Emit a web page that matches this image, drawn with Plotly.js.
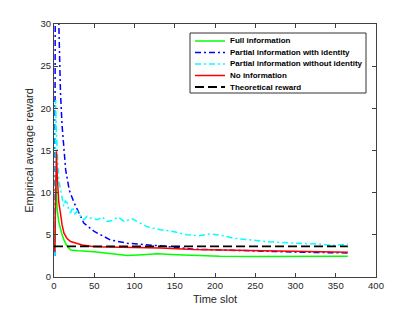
<!DOCTYPE html>
<html>
<head>
<meta charset="utf-8">
<script src="https://cdn.plot.ly/plotly-3.0.1.min.js"></script>
<style>html,body{margin:0;padding:0;background:#fff;}#chart{width:415px;height:312px;}</style>
</head>
<body>
<div id="chart"></div>
<script>
// Full information
var fullT = [1, 2, 3, 4, 6, 8, 10, 12.4, 16, 20.6, 30, 50, 70, 91, 110, 128, 153, 180, 206, 250, 300, 365];
var fullV = [3, 12, 10, 8, 6.5, 5.6, 5, 4.4, 3.7, 3.2, 3.1, 3.0, 2.75, 2.55, 2.65, 2.76, 2.64, 2.53, 2.45, 2.42, 2.4, 2.45];
// Partial information with identity
var pwiT = [1, 2, 4, 6, 8, 10, 12, 14.5, 19, 25, 33, 37, 50, 70, 91, 132, 173, 206, 250, 300, 365];
var pwiV = [2.5, 60, 38, 30, 22, 18, 15.5, 12.7, 10.3, 8.8, 7.2, 6.4, 5.4, 4.4, 4.0, 3.7, 3.3, 3.2, 3.05, 2.95, 2.85];
// Partial information without identity
var pwoT = [1, 2, 3, 4, 5, 6, 8, 10, 12, 14, 16.5, 18, 20.6, 23, 26, 29, 33, 37, 41, 45, 50, 54, 60, 66, 72, 80, 87, 97, 105, 115, 132, 148, 165, 180, 194, 210, 223, 264, 301, 330, 346, 365];
var pwoV = [2.5, 21, 17, 14, 13, 11.5, 10.4, 9.2, 8.4, 9.0, 8.8, 8.0, 7.6, 8.3, 7.5, 7.8, 7.2, 6.8, 7.2, 7.0, 6.9, 6.8, 7.1, 6.6, 6.7, 7.1, 6.6, 6.9, 6.5, 6.0, 5.6, 5.4, 5.0, 4.9, 5.1, 4.9, 4.6, 4.2, 4.0, 3.9, 3.75, 3.9];
// No information
var noT = [1, 2, 3, 4, 5, 6, 8, 10, 12.4, 16, 20.6, 25, 29, 35, 50, 90, 132, 173, 206, 250, 300, 365];
var noV = [3, 10, 14.9, 12, 10, 8.8, 7.6, 6.2, 5.2, 4.6, 4.2, 4.1, 4.0, 3.8, 3.6, 3.55, 3.44, 3.25, 3.2, 3.1, 3.0, 2.92];
// Theoretical reward
var theoT = [0, 365];
var theoV = [3.63, 3.63];

var seriesNames = ["Full information", "Partial information with identity", "Partial information without identity", "No information", "Theoretical reward"];
var xTicks = [0, 50, 100, 150, 200, 250, 300, 350, 400];
var yTicks = [0, 5, 10, 15, 20, 25, 30];

var FONT = 'Liberation Sans, Arial, Helvetica, sans-serif';
var styles = [
  {color: '#00ff00', width: 1.5, dash: 'solid'},
  {color: '#0000ff', width: 1.5, dash: '6px,3px,2px,3px'},
  {color: '#00ffff', width: 1.5, dash: '6px,3px,2px,3px'},
  {color: '#ff0000', width: 1.5, dash: 'solid'},
  {color: '#000000', width: 1.8, dash: '9px,4px'}
];
var xs = [fullT, pwiT, pwoT, noT, theoT];
var ys = [fullV, pwiV, pwoV, noV, theoV];

var traces = seriesNames.map(function (n, i) {
  return {x: xs[i], y: ys[i], name: n, mode: 'lines', line: styles[i], showlegend: false};
});

// Plot geometry (pixels) used to place the boxed legend like the original
var W = 415, H = 312, ML = 54, MR = 39, MT = 24, MB = 35;
var PW = W - ML - MR, PH = H - MT - MB;
function px(x) { return (x - ML) / PW; }
function py(y) { return (H - MB - y) / PH; }

var shapes = [{
  type: 'rect', xref: 'paper', yref: 'paper',
  x0: px(190), x1: px(366), y0: py(93), y1: py(33),
  line: {color: '#333333', width: 1}, fillcolor: '#ffffff', layer: 'above'
}];
var annotations = [];
var rowY = [41, 52.5, 64, 75.5, 87];
seriesNames.forEach(function (n, i) {
  shapes.push({
    type: 'line', xref: 'paper', yref: 'paper',
    x0: px(195), x1: px(225), y0: py(rowY[i]), y1: py(rowY[i]),
    line: {color: styles[i].color, width: styles[i].width, dash: styles[i].dash}, layer: 'above'
  });
  annotations.push({
    text: n, xref: 'paper', yref: 'paper', x: px(228), y: py(rowY[i]),
    xanchor: 'left', yanchor: 'middle', showarrow: false,
    font: {family: FONT, size: 8, color: '#000000', weight: 'bold'}
  });
});

var axisCommon = {
  showline: true, linecolor: '#404040', linewidth: 1, mirror: 'ticks',
  ticks: 'inside', ticklen: 4, tickcolor: '#404040', tickwidth: 1,
  showgrid: false, zeroline: false,
  tickfont: {family: FONT, size: 9.5, color: '#262626'}
};

var layout = {
  width: W, height: H,
  margin: {l: ML, r: MR, t: MT, b: MB},
  paper_bgcolor: '#ffffff', plot_bgcolor: '#ffffff',
  showlegend: false,
  xaxis: Object.assign({}, axisCommon, {
    range: [0, 400], tickmode: 'array', tickvals: xTicks, ticktext: xTicks.map(String),
    title: {text: 'Time slot', font: {family: FONT, size: 11, color: '#262626'}, standoff: 4}
  }),
  yaxis: Object.assign({}, axisCommon, {
    range: [0, 30], tickmode: 'array', tickvals: yTicks, ticktext: yTicks.map(String),
    title: {text: 'Empirical average reward', font: {family: FONT, size: 11, color: '#262626'}, standoff: 4}
  }),
  shapes: shapes,
  annotations: annotations
};

Plotly.newPlot('chart', traces, layout, {staticPlot: true, displayModeBar: false});
</script>
</body>
</html>
